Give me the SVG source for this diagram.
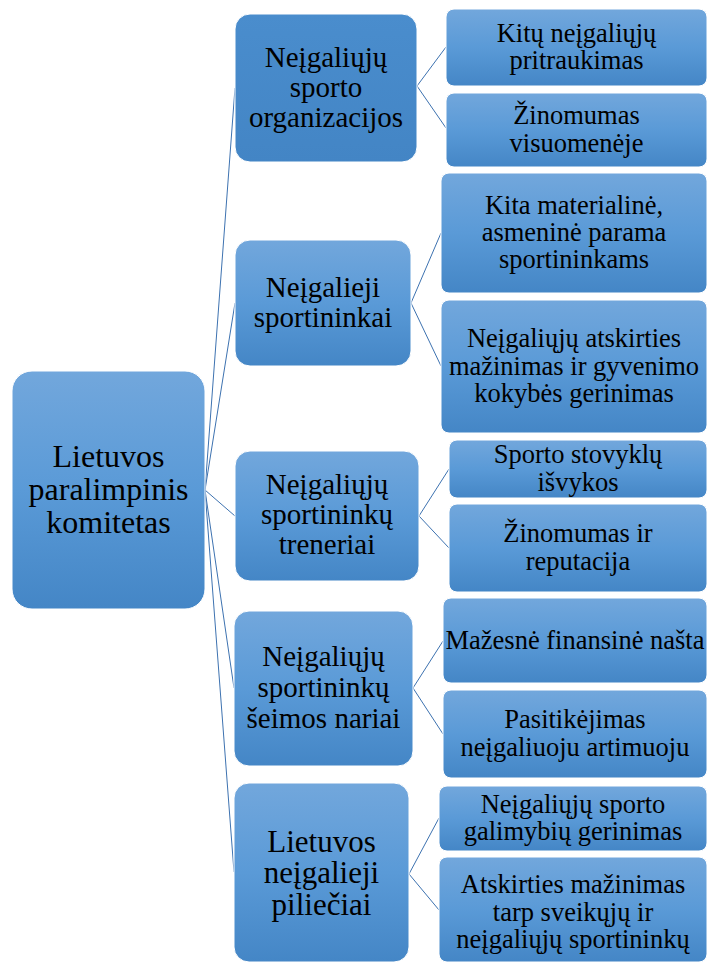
<svg xmlns="http://www.w3.org/2000/svg" width="708" height="963" viewBox="0 0 708 963">
<defs>
<linearGradient id="g" x1="0" y1="0" x2="0" y2="1">
<stop offset="0" stop-color="#72a7dc"/>
<stop offset="0.5" stop-color="#5a9ad7"/>
<stop offset="1" stop-color="#4486c6"/>
</linearGradient>
<linearGradient id="g1" x1="0" y1="0" x2="0" y2="1">
<stop offset="0" stop-color="#4a8dcd"/>
<stop offset="1" stop-color="#4385c5"/>
</linearGradient>
<style>
.b{fill:url(#g);stroke:#ffffff;stroke-width:1}
.b1{fill:url(#g1);stroke:#ffffff;stroke-width:1}
text{fill:#000;text-anchor:middle}
.t0{font-size:32px}
.t1{font-size:29px}
.t5{font-size:31px}
.t2{font-size:26.5px}
.c line{stroke:#3d72b0;stroke-width:1;fill:none}
</style>
</defs>
<rect width="708" height="963" fill="#ffffff"/>
<g class="c" id="connectors">
<line x1="205" y1="490" x2="235" y2="88"/>
<line x1="205" y1="490" x2="235" y2="303"/>
<line x1="205" y1="490" x2="235" y2="516"/>
<line x1="205" y1="490" x2="234" y2="688"/>
<line x1="205" y1="490" x2="234" y2="872"/>
<line x1="417" y1="86" x2="446" y2="47"/>
<line x1="417" y1="86" x2="446" y2="128"/>
<line x1="411" y1="303" x2="441" y2="233"/>
<line x1="411" y1="303" x2="441" y2="366"/>
<line x1="419" y1="516" x2="449" y2="469"/>
<line x1="419" y1="516" x2="449" y2="548"/>
<line x1="413" y1="688" x2="443" y2="641"/>
<line x1="413" y1="688" x2="443" y2="734"/>
<line x1="409" y1="874" x2="439" y2="818"/>
<line x1="409" y1="874" x2="439" y2="910"/>
</g>
<g font-family="'Liberation Serif', 'DejaVu Serif', 'Times New Roman', serif">
<g id="root">
<rect class="b" x="12" y="371" width="193" height="238" rx="20"/>
<text class="t0"><tspan x="108.5" y="466.6">Lietuvos</tspan><tspan x="108.5" y="499.6">paralimpinis</tspan><tspan x="108.5" y="532.6">komitetas</tspan></text>
</g>
<g id="n1">
<rect class="b1" x="235" y="14" width="182" height="148" rx="15"/>
<text class="t1"><tspan x="326" y="66.7">Neįgaliųjų</tspan><tspan x="326" y="96.7">sporto</tspan><tspan x="326" y="126.7">organizacijos</tspan></text>
</g>
<g id="n1a">
<rect class="b" x="446" y="9" width="261" height="77" rx="8"/>
<text class="t2"><tspan x="576.5" y="41.8">Kitų neįgaliųjų</tspan><tspan x="576.5" y="69.1">pritraukimas</tspan></text>
</g>
<g id="n1b">
<rect class="b" x="446" y="93" width="261" height="74" rx="8"/>
<text class="t2"><tspan x="576.5" y="124.3">Žinomumas</tspan><tspan x="576.5" y="151.6">visuomenėje</tspan></text>
</g>
<g id="n2">
<rect class="b" x="235" y="240" width="176" height="126" rx="15"/>
<text class="t1"><tspan x="323" y="296.7">Neįgalieji</tspan><tspan x="323" y="326.7">sportininkai</tspan></text>
</g>
<g id="n2a">
<rect class="b" x="441" y="173" width="266" height="120" rx="8"/>
<text class="t2"><tspan x="574" y="213.7">Kita materialinė,</tspan><tspan x="574" y="241">asmeninė parama</tspan><tspan x="574" y="268.3">sportininkams</tspan></text>
</g>
<g id="n2b">
<rect class="b" x="441" y="300" width="266" height="133" rx="8"/>
<text class="t2"><tspan x="574" y="347.2">Neįgaliųjų atskirties</tspan><tspan x="574" y="374.5">mažinimas ir gyvenimo</tspan><tspan x="574" y="401.8">kokybės gerinimas</tspan></text>
</g>
<g id="n3">
<rect class="b" x="235" y="451" width="184" height="130" rx="15"/>
<text class="t1"><tspan x="327" y="494.2">Neįgaliųjų</tspan><tspan x="327" y="524.2">sportininkų</tspan><tspan x="327" y="554.2">treneriai</tspan></text>
</g>
<g id="n3a">
<rect class="b" x="449" y="440" width="258" height="58" rx="8"/>
<text class="t2"><tspan x="578" y="463.3">Sporto stovyklų</tspan><tspan x="578" y="490.6">išvykos</tspan></text>
</g>
<g id="n3b">
<rect class="b" x="449" y="504" width="258" height="88" rx="8"/>
<text class="t2"><tspan x="578" y="542.3">Žinomumas ir</tspan><tspan x="578" y="569.6">reputacija</tspan></text>
</g>
<g id="n4">
<rect class="b" x="234" y="611" width="179" height="155" rx="15"/>
<text class="t1"><tspan x="323.5" y="666.2">Neįgaliųjų</tspan><tspan x="323.5" y="697">sportininkų</tspan><tspan x="323.5" y="727.8">šeimos nariai</tspan></text>
</g>
<g id="n4a">
<rect class="b" x="443" y="598" width="264" height="85" rx="8"/>
<text class="t2"><tspan x="575" y="648.5">Mažesnė finansinė našta</tspan></text>
</g>
<g id="n4b">
<rect class="b" x="443" y="690" width="264" height="88" rx="8"/>
<text class="t2"><tspan x="575" y="728.3">Pasitikėjimas</tspan><tspan x="575" y="755.6">neįgaliuoju artimuoju</tspan></text>
</g>
<g id="n5">
<rect class="b" x="234" y="783" width="175" height="179" rx="15"/>
<text class="t5"><tspan x="321.5" y="851.5">Lietuvos</tspan><tspan x="321.5" y="883.2">neįgalieji</tspan><tspan x="321.5" y="914.9">piliečiai</tspan></text>
</g>
<g id="n5a">
<rect class="b" x="439" y="786" width="268" height="65" rx="8"/>
<text class="t2"><tspan x="573" y="812.8">Neįgaliųjų sporto</tspan><tspan x="573" y="840.1">galimybių gerinimas</tspan></text>
</g>
<g id="n5b">
<rect class="b" x="439" y="857" width="268" height="105" rx="8"/>
<text class="t2"><tspan x="573" y="893.2">Atskirties mažinimas</tspan><tspan x="573" y="920.5">tarp sveikųjų ir</tspan><tspan x="573" y="947.8">neįgaliųjų sportininkų</tspan></text>
</g>
</g>
</svg>
